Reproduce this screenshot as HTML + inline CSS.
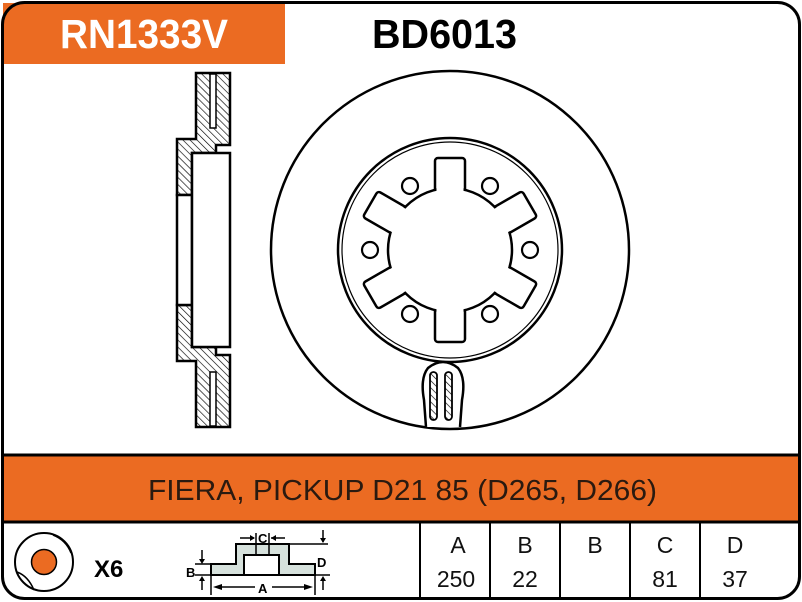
<!DOCTYPE html>
<html><head><meta charset="utf-8"><style>
body{margin:0;background:#fff}
svg{display:block}
text{font-family:"Liberation Sans",Arial,sans-serif}
</style></head><body>
<svg width="802" height="602" viewBox="0 0 802 602" xmlns="http://www.w3.org/2000/svg">
<defs>
<pattern id="h" patternUnits="userSpaceOnUse" width="5" height="5" patternTransform="rotate(-45)">
<rect width="5" height="5" fill="#fff"/><line x1="0" y1="0" x2="0" y2="5" stroke="#000" stroke-width="1.3"/>
</pattern>
</defs>
<rect x="3" y="3" width="282" height="61" fill="#EB6B22"/>
<text x="60" y="48" font-size="41" font-weight="bold" fill="#fff" textLength="168" lengthAdjust="spacingAndGlyphs">RN1333V</text>
<text x="372" y="48" font-size="41" font-weight="bold" fill="#000" textLength="145" lengthAdjust="spacingAndGlyphs">BD6013</text>
<rect x="3" y="455" width="796" height="67" fill="#EB6B22"/>
<line x1="3" y1="455" x2="799" y2="455" stroke="#000" stroke-width="3"/>
<line x1="3" y1="522" x2="799" y2="522" stroke="#000" stroke-width="3"/>
<text x="148" y="500" font-size="29" fill="#2a1a10" textLength="509" lengthAdjust="spacingAndGlyphs">FIERA, PICKUP D21 85 (D265, D266)</text>
<rect x="2.5" y="2.5" width="797" height="596" rx="22" fill="none" stroke="#000" stroke-width="3"/>
<g stroke="#000" stroke-width="2">
<line x1="420" y1="522" x2="420" y2="598"/><line x1="490" y1="522" x2="490" y2="598"/>
<line x1="560" y1="522" x2="560" y2="598"/><line x1="630" y1="522" x2="630" y2="598"/>
<line x1="700" y1="522" x2="700" y2="598"/>
</g>
<g font-size="23" text-anchor="middle" fill="#111">
<text x="458" y="553">A</text><text x="525" y="553">B</text><text x="595" y="553">B</text><text x="665" y="553">C</text><text x="735" y="553">D</text>
<text x="456" y="587">250</text><text x="525" y="587">22</text><text x="665" y="587">81</text><text x="735" y="587">37</text>
</g>
<circle cx="44" cy="562" r="29" fill="none" stroke="#000" stroke-width="2"/>
<circle cx="44" cy="562" r="12.5" fill="#EB6B22" stroke="#000" stroke-width="1.5"/>
<path d="M53,535 Q66,540 71,553" fill="none" stroke="#000" stroke-width="1.5"/>
<path d="M17,572 Q28,576 34,590" fill="none" stroke="#000" stroke-width="1.5"/>
<text x="94" y="577" font-size="24" font-weight="bold">X6</text>
<path d="M211,575 L211,564 L236,564 L236,544 L289,544 L289,564 L315,564 L315,575 Z M244,575 L279,575 L279,555 L244,555 Z" fill="#d6e1dc" fill-rule="evenodd" stroke="#000" stroke-width="2"/>
<g stroke="#000" stroke-width="1.5" fill="none">
<line x1="195" y1="575" x2="330" y2="575"/><line x1="195" y1="564" x2="211" y2="564"/>
<line x1="289" y1="544" x2="328" y2="544"/>
<line x1="256" y1="533" x2="256" y2="555"/><line x1="269" y1="533" x2="269" y2="555"/>
<line x1="211" y1="575" x2="211" y2="595"/><line x1="315" y1="575" x2="315" y2="595"/>
<line x1="202" y1="550" x2="202" y2="562"/><line x1="202" y1="578" x2="202" y2="590"/>
<line x1="323" y1="530" x2="323" y2="542"/><line x1="323" y1="578" x2="323" y2="590"/>
<line x1="240" y1="538" x2="254" y2="538"/><line x1="271" y1="538" x2="285" y2="538"/>
<line x1="218" y1="587" x2="255" y2="587"/><line x1="272" y1="587" x2="308" y2="587"/>
</g>
<g fill="#000">
<path d="M199,559 L205,559 L202,564Z"/><path d="M199,581 L205,581 L202,576Z"/>
<path d="M320,538 L326,538 L323,543Z"/><path d="M320,581 L326,581 L323,576Z"/>
<path d="M250,535 L255,538 L250,541Z"/><path d="M276,535 L271,538 L276,541Z"/>
<path d="M213,587 L222,584 L222,590Z"/><path d="M313,587 L304,584 L304,590Z"/>
</g>
<g font-size="13" font-weight="bold">
<text x="258" y="543">C</text><text x="186" y="577">B</text><text x="317" y="567">D</text><text x="258" y="593">A</text>
</g>
<g stroke="#000" stroke-width="2.5" stroke-linejoin="miter">
<path d="M196,73 L230,73 L230,145 L216,145 L216,153 L192,153 L192,195 L177,195 L177,139 L196,139 Z" fill="url(#h)"/>
<path d="M196,427 L230,427 L230,355 L216,355 L216,347 L192,347 L192,305 L177,305 L177,361 L196,361 Z" fill="url(#h)"/>
<rect x="177" y="195" width="15" height="110" fill="#fff"/>
<rect x="192" y="153" width="38" height="194" fill="#fff"/>
<rect x="210" y="74" width="6" height="54" fill="#fff" stroke-width="1.5"/>
<rect x="210" y="372" width="6" height="54" fill="#fff" stroke-width="1.5"/>
</g>
<circle cx="450" cy="250" r="179" fill="none" stroke="#000" stroke-width="2.5"/>
<circle cx="450" cy="250" r="112" fill="none" stroke="#000" stroke-width="2.5"/>
<circle cx="450" cy="250" r="108" fill="none" stroke="#000" stroke-width="1.2"/>
<g transform="translate(450,250)">
<g stroke="#000" stroke-width="2.5" fill="#fff">
<rect x="-15" y="-92" width="30" height="92" rx="3" transform="rotate(0)"/>
<rect x="-15" y="-92" width="30" height="92" rx="3" transform="rotate(60)"/>
<rect x="-15" y="-92" width="30" height="92" rx="3" transform="rotate(120)"/>
<rect x="-15" y="-92" width="30" height="92" rx="3" transform="rotate(180)"/>
<rect x="-15" y="-92" width="30" height="92" rx="3" transform="rotate(240)"/>
<rect x="-15" y="-92" width="30" height="92" rx="3" transform="rotate(300)"/>
<circle r="62"/>
</g>
<g fill="#fff">
<rect x="-13.5" y="-90" width="27" height="90" transform="rotate(0)"/>
<rect x="-13.5" y="-90" width="27" height="90" transform="rotate(60)"/>
<rect x="-13.5" y="-90" width="27" height="90" transform="rotate(120)"/>
<rect x="-13.5" y="-90" width="27" height="90" transform="rotate(180)"/>
<rect x="-13.5" y="-90" width="27" height="90" transform="rotate(240)"/>
<rect x="-13.5" y="-90" width="27" height="90" transform="rotate(300)"/>
<circle r="60"/>
</g>
<g fill="none" stroke="#000" stroke-width="2.2">
<circle cx="-80" cy="0" r="8"/><circle cx="80" cy="0" r="8"/>
<circle cx="-40" cy="-64" r="8"/><circle cx="40" cy="-64" r="8"/>
<circle cx="-40" cy="64" r="8"/><circle cx="40" cy="64" r="8"/>
</g>
</g>
<path d="M426,427 L424,400 Q420,378 428,368 Q443,356 458,368 Q466,378 462,400 L460,427" fill="#fff" stroke="#000" stroke-width="2.5"/>
<rect x="430" y="372" width="7" height="48" rx="3.5" fill="url(#h)" stroke="#000" stroke-width="1.8"/>
<rect x="445" y="372" width="7" height="48" rx="3.5" fill="url(#h)" stroke="#000" stroke-width="1.8"/>
</svg>
</body></html>
